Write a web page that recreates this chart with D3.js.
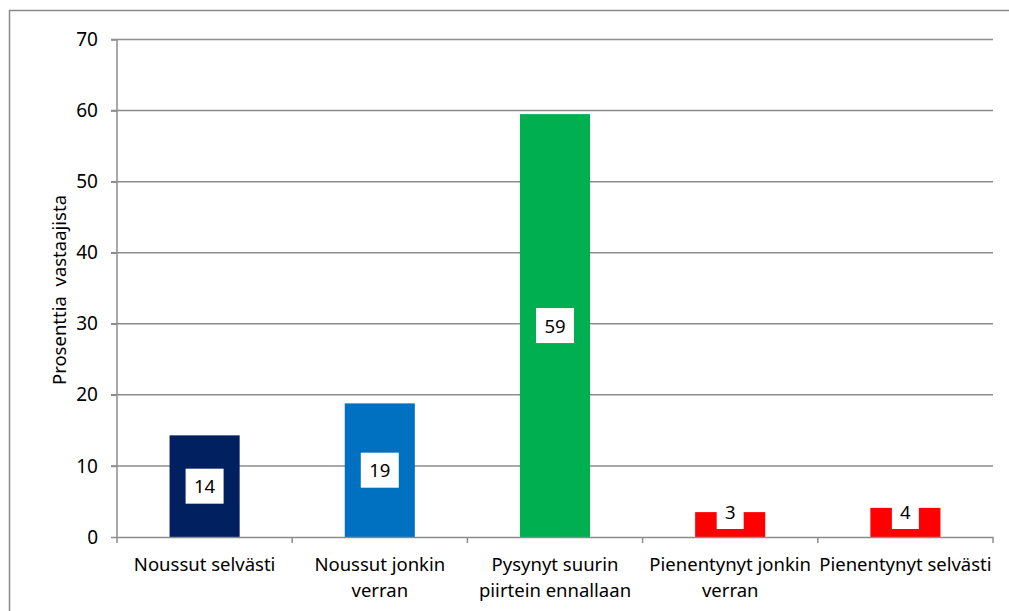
<!DOCTYPE html>
<html>
    <head>
        <meta charset="utf-8">
        <script src="https://d3js.org/d3.v7.min.js"></script>
        <style>
            body { margin: 0; background: #fff; }
            text { font-family: "Noto Sans", "Open Sans", sans-serif; fill: #000; }
        </style>
    </head>
    <body>
        <div id="vizBody"></div>
    </body>
    <script>
        // chart data
        let categories = ["Noussut selvästi", "Noussut jonkin verran", "Pysynyt suurin piirtein ennallaan",
                          "Pienentynyt jonkin verran", "Pienentynyt selvästi"];
        let values = [14.3, 18.8, 59.5, 3.5, 4.1];
        let labels = ["14", "19", "59", "3", "4"];
        let colors = ["#002060", "#0070C0", "#00B050", "#FF0000", "#FF0000"];
        let yTicks = [0, 10, 20, 30, 40, 50, 60, 70];

        let maxWidth = 1009, maxHeight = 611;
        let margin = {top: 39.5, right: 16, bottom: 74, left: 117};
        let width = 993 - margin.left,
            height = 537 - margin.top;

        let svg = d3.select("#vizBody").append("svg")
                    .attr("width", maxWidth)
                    .attr("height", maxHeight);

        // outer chart border
        svg.append("rect")
           .attr("x", 9.5).attr("y", 10.5)
           .attr("width", 1100).attr("height", 700)
           .attr("fill", "none").attr("stroke", "#898989").attr("stroke-width", 1.5);

        let g = svg.append("g").attr("transform", "translate(" + margin.left + "," + margin.top + ")");

        let x = d3.scaleBand().domain(categories).range([0, width]).paddingInner(0.6).paddingOuter(0.3);
        let xb = d3.scaleBand().domain(categories).range([0, width]);
        let y = d3.scaleLinear().domain([0, 70]).range([height, 0]);

        // gridlines
        g.selectAll(".grid").data(yTicks.filter(d => d > 0)).join("line")
         .attr("x1", -6).attr("x2", width)
         .attr("y1", d => y(d)).attr("y2", d => y(d))
         .attr("stroke", "#8c8c8c").attr("stroke-width", 1.5);

        // y axis
        let yAxis = g.append("g").call(d3.axisLeft(y).tickValues(yTicks).tickSize(6).tickPadding(13));
        yAxis.select(".domain").attr("stroke", "#8c8c8c").attr("stroke-width", 1.5).attr("d", "M0," + height + "V0");
        yAxis.selectAll(".tick line").attr("stroke", "#8c8c8c").attr("stroke-width", 1.5);
        yAxis.selectAll(".tick text").style("font-size", "19px").attr("font-family", null);

        // bars
        g.selectAll(".bar").data(values).join("rect")
         .attr("x", (d, i) => x(categories[i]))
         .attr("y", d => y(d))
         .attr("width", x.bandwidth())
         .attr("height", d => height - y(d))
         .attr("fill", (d, i) => colors[i]);

        // value labels (kept above the axis like the original)
        let lab = g.selectAll(".lab").data(values).join("g")
                   .attr("transform", (d, i) => "translate(" + (x(categories[i]) + x.bandwidth() / 2) + "," +
                                                 Math.min(y(d / 2), height - 25.5) + ")");
        lab.append("rect")
           .attr("x", (d, i) => labels[i].length > 1 ? -19 : -13.5)
           .attr("y", -17.5)
           .attr("width", (d, i) => labels[i].length > 1 ? 38 : 27)
           .attr("height", 35)
           .attr("fill", "#fff");
        lab.append("text")
           .attr("text-anchor", "middle").attr("dy", "0.38em")
           .style("font-size", "18.5px")
           .text((d, i) => labels[i]);

        // x axis
        let xAxis = g.append("g").attr("transform", "translate(0," + height + ")")
                     .call(d3.axisBottom(xb).tickSize(0).tickPadding(21));
        xAxis.select(".domain").attr("stroke", "#8c8c8c").attr("stroke-width", 1.5);
        xAxis.selectAll(".tick text").style("font-size", "18.5px").attr("font-family", null).call(wrap, 176);
        // category separators
        g.selectAll(".sep").data(d3.range(categories.length + 1)).join("line")
         .attr("x1", d => d * xb.step()).attr("x2", d => d * xb.step())
         .attr("y1", height).attr("y2", height + 6)
         .attr("stroke", "#8c8c8c").attr("stroke-width", 1.5);

        // y title
        svg.append("text")
           .attr("transform", "translate(66,290) rotate(-90)")
           .attr("text-anchor", "middle")
           .style("font-size", "18.5px")
           .style("white-space", "pre")
           .text("Prosenttia  vastaajista");

        function wrap(texts, w) {
            texts.each(function() {
                let t = d3.select(this), words = t.text().split(" "), line = [], lineNo = 0;
                let yy = t.attr("y"), dy = parseFloat(t.attr("dy"));
                let span = t.text(null).append("tspan").attr("x", 0).attr("y", yy).attr("dy", dy + "em");
                words.forEach(word => {
                    line.push(word);
                    span.text(line.join(" "));
                    if (span.node().getComputedTextLength() > w && line.length > 1) {
                        line.pop();
                        span.text(line.join(" "));
                        line = [word];
                        span = t.append("tspan").attr("x", 0).attr("y", yy)
                                .attr("dy", (++lineNo * 1.4 + dy) + "em").text(word);
                    }
                });
            });
        }
    </script>
</html>
